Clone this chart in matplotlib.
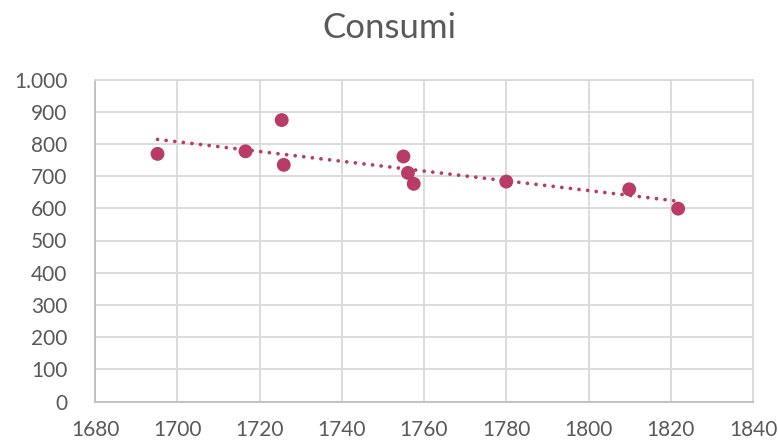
import numpy as np
import matplotlib
matplotlib.use("Agg")
from matplotlib import pyplot as plt
from matplotlib.ticker import FuncFormatter

# dati
anni = [1695.2, 1716.6, 1725.4, 1725.9, 1755.0, 1756.1, 1757.5, 1780.0, 1809.9, 1821.8]
consumi = [769, 777, 874, 735, 761, 710, 676, 683, 659, 599]
x_ticks = [1680, 1700, 1720, 1740, 1760, 1780, 1800, 1820, 1840]
y_ticks = [0, 100, 200, 300, 400, 500, 600, 700, 800, 900, 1000]

col = '#B83B68'
grigio = '#595959'
griglia = '#D9D9D9'

plt.rcParams['font.family'] = ['Lato', 'DejaVu Sans']

fig = plt.figure(figsize=(7.78, 4.42), dpi=100)
ax = fig.add_axes([95/778, 1-401.5/442, (753-95)/778, (401.5-79.5)/442])

# linea di tendenza lineare
m, q = np.polyfit(anni, consumi, 1)
xt = np.array([min(anni), max(anni)])
ax.plot(xt, m*xt+q, color=col, lw=2.7, linestyle=(0, (0.01, 2.3)),
        dash_capstyle='round', zorder=2)

ax.scatter(anni, consumi, s=100, color=col, edgecolors='none', zorder=3)

ax.set_xlim(1680, 1840)
ax.set_ylim(0, 1000)
ax.set_xticks(x_ticks)
ax.set_yticks(y_ticks)
ax.yaxis.set_major_formatter(FuncFormatter(lambda v, p: f"{int(v):,}".replace(",", ".")))
ax.grid(True, color=griglia, lw=1.3)
ax.set_axisbelow(True)
for s in ax.spines.values():
    s.set_color(griglia)
    s.set_linewidth(1.3)
ax.spines['left'].set_color('#BFBFBF')
ax.spines['bottom'].set_color('#BFBFBF')
ax.tick_params(length=0, labelsize=15, colors=grigio)
ax.tick_params(axis='y', pad=20)
ax.tick_params(axis='x', pad=13)

fig.text(0.5, 1-28/442, 'Consumi', ha='center', va='center', fontsize=25, color=grigio)

fig.savefig('out.png', dpi=100)
